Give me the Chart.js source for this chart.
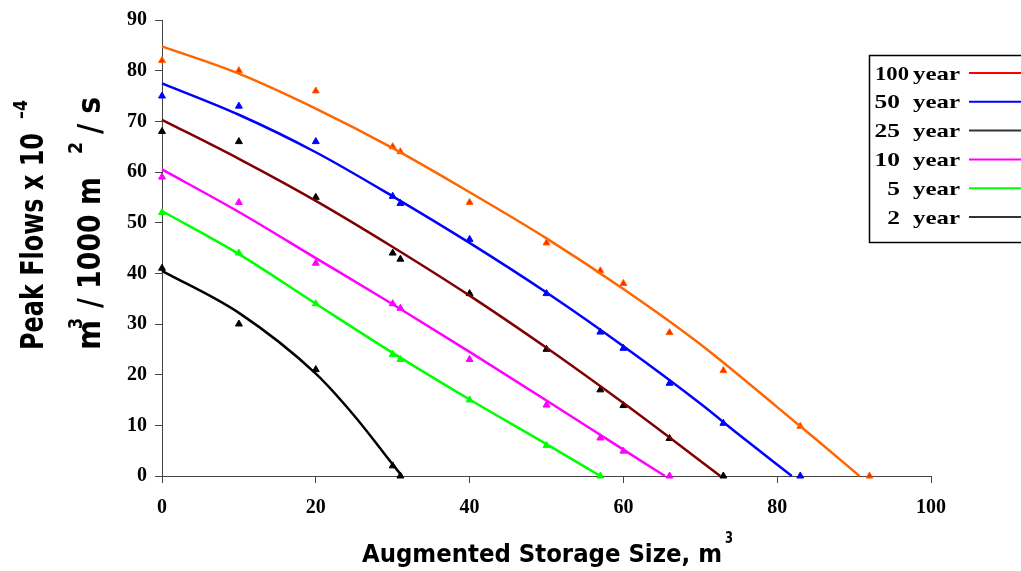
<!DOCTYPE html>
<html>
<head>
<meta charset="utf-8">
<script src="https://cdn.jsdelivr.net/npm/chart.js@4.4.1/dist/chart.umd.min.js"></script>
<style>
  html, body { margin: 0; padding: 0; background: #fff; }
  #wrap { width: 1021px; height: 571px; position: relative; }
</style>
</head>
<body>
<div id="wrap"><canvas id="peakChart"></canvas></div>
<script>
// Observed points (triangles), storage size vs peak flow
const obs100X = [0, 10, 20, 30, 31, 40, 50, 57, 60, 66, 73, 83, 92];
const obs100Y = [82, 80, 76, 65, 64, 54, 46, 40.5, 38, 28.3, 20.8, 9.8, 0];
const obs50X = [0, 10, 20, 30, 31, 40, 50, 57, 60, 66, 73, 83];
const obs50Y = [75, 73, 66, 55.2, 53.8, 46.7, 36, 28.4, 25.2, 18.3, 10.4, 0];
const obs25X = [0, 10, 20, 30, 31, 40, 50, 57, 60, 66, 73];
const obs25Y = [68, 66, 55, 44, 42.8, 36, 25, 17, 13.9, 7.4, 0];
const obs10X = [0, 10, 20, 30, 31, 40, 50, 57, 60, 66];
const obs10Y = [59, 54, 42, 34, 33.1, 23, 14, 7.5, 4.9, 0];
const obs5X = [0, 10, 20, 30, 31, 40, 50, 57];
const obs5Y = [52, 44, 34, 24, 23, 15, 6, 0];
const obs2X = [0, 10, 20, 30, 31];
const obs2Y = [41, 30, 21, 2, 0];

// Fitted trend curves
const fit100X = [0, 10, 20, 30, 40, 50, 60, 70, 80, 85, 90.7];
const fit100Y = [84.8, 79.4, 72.5, 64.7, 56.0, 46.9, 36.9, 26.0, 13.6, 7.3, 0];
const fit50X = [0, 10, 20, 30, 40, 50, 60, 70, 75, 81.9];
const fit50Y = [77.5, 71.3, 63.9, 55.2, 46.0, 36.2, 25.6, 14.3, 8.2, 0];
const fit25X = [0, 10, 20, 30, 40, 50, 60, 66, 72.6];
const fit25Y = [70.3, 62.6, 54.3, 45.2, 35.6, 25.3, 14.4, 7.6, 0];
const fit10X = [0, 10, 20, 30, 40, 50, 60, 65.4];
const fit10Y = [60.5, 52.1, 43.0, 33.9, 24.5, 14.9, 5.2, 0];
const fit5X = [0, 10, 20, 30, 40, 50, 57];
const fit5Y = [52.3, 43.8, 34.0, 24.3, 15.1, 6.3, 0];
const fit2X = [0, 10, 20, 25, 30, 31.2];
const fit2Y = [40.5, 32.2, 20.2, 11.9, 2.3, 0];

const xTicks = [0, 20, 40, 60, 80, 100];
const yTicks = [0, 10, 20, 30, 40, 50, 60, 70, 80, 90];

const legendNums = ['100', '50', '25', '10', '5', '2'];
const legendColors = ['#ff0000', '#0000ff', '#333333', '#ff00ff', '#00ff00', '#333333'];
const lineColors = ['#ff6600', '#0000ff', '#800000', '#ff00ff', '#00ff00', '#000000'];
const markFill = ['#ff2a00', '#0000ff', '#000000', '#ff00ff', '#00ff00', '#000000'];
const markEdge = ['#ff6600', '#0000ff', '#000000', '#ff00ff', '#00ff00', '#000000'];

const pts = (xs, ys) => xs.map((x, i) => ({ x: x, y: ys[i] }));

const fits = [[fit100X, fit100Y], [fit50X, fit50Y], [fit25X, fit25Y], [fit10X, fit10Y], [fit5X, fit5Y], [fit2X, fit2Y]];
const obs = [[obs100X, obs100Y], [obs50X, obs50Y], [obs25X, obs25Y], [obs10X, obs10Y], [obs5X, obs5Y], [obs2X, obs2Y]];

const datasets = [];
fits.forEach((f, i) => {
  datasets.push({
    label: legendNums[i] + ' year fit',
    data: pts(f[0], f[1]),
    showLine: true,
    borderColor: lineColors[i],
    borderWidth: 2.5,
    pointRadius: 0,
    cubicInterpolationMode: 'monotone',
    clip: false
  });
});
obs.forEach((o, i) => {
  datasets.push({
    label: legendNums[i] + ' year',
    data: pts(o[0], o[1]),
    showLine: false,
    pointStyle: 'triangle',
    pointRadius: 4,
    backgroundColor: markFill[i],
    borderColor: markEdge[i],
    borderWidth: 1,
    clip: false
  });
});

// stretch text to a given length (the source picture is drawn wide)
function fitText(ctx, text, x, y, len, font, sy) {
  ctx.save();
  ctx.font = font;
  const w = ctx.measureText(text).width;
  ctx.translate(x, y);
  ctx.scale(len / w, sy || 1);
  ctx.fillText(text, 0, 0);
  ctx.restore();
}
function fitTextUp(ctx, text, x, y, len, font, sy) {
  ctx.save();
  ctx.font = font;
  const w = ctx.measureText(text).width;
  ctx.translate(x, y);
  ctx.rotate(-Math.PI / 2);
  ctx.scale(len / w, sy || 1);
  ctx.fillText(text, 0, 0);
  ctx.restore();
}

const chartText = {
  id: 'chartText',
  afterDraw(chart) {
    const ctx = chart.ctx;
    ctx.save();
    ctx.fillStyle = '#000';
    ctx.textAlign = 'left';
    ctx.textBaseline = 'alphabetic';
    const big = 'bold 24px "DejaVu Sans"';
    const sup = 'bold 16px "DejaVu Sans"';

    // x axis title
    fitText(ctx, 'Augmented Storage Size, m', 362, 562, 360, big, 1);
    fitText(ctx, '3', 725, 543, 8, sup, 1);

    // y axis title, two lines
    fitTextUp(ctx, 'Peak Flows x 10', 43, 350, 217, big, 1.3);
    fitTextUp(ctx, '\u20134', 27, 119, 19, sup, 1.2);
    fitTextUp(ctx, 'm', 100, 350, 30, big, 1.3);
    fitTextUp(ctx, '3', 82, 329, 11, sup, 1.2);
    fitTextUp(ctx, '/ 1000 m', 100, 308, 131, big, 1.3);
    fitTextUp(ctx, '2', 82, 154, 12, sup, 1.2);
    fitTextUp(ctx, '/ s', 100, 134, 37, big, 1.3);

    // legend box
    ctx.strokeStyle = '#000';
    ctx.lineWidth = 1.5;
    ctx.strokeRect(869.5, 55.5, 200, 187);
    const lf = 'bold 19px "Liberation Serif"';
    ctx.font = lf;
    const sx = 48 / ctx.measureText('year').width;
    legendNums.forEach((n, i) => {
      const base = 79.5 + i * 28.8;
      const w = n.length === 3 ? 34 : ctx.measureText(n).width * sx;
      const nx = n.length === 3 ? 875 : 900 - w;
      fitText(ctx, n, nx, base, w, lf, 1);
      fitText(ctx, 'year', 913, base, 47, lf, 1);
      ctx.strokeStyle = legendColors[i];
      ctx.lineWidth = 2;
      ctx.beginPath();
      ctx.moveTo(969, base - 6.5);
      ctx.lineTo(1021, base - 6.5);
      ctx.stroke();
    });
    ctx.restore();
  }
};

const tickFont = { family: 'Liberation Serif', weight: 'bold', size: 20 };

new Chart(document.getElementById('peakChart'), {
  type: 'scatter',
  data: { datasets: datasets },
  options: {
    responsive: true,
    maintainAspectRatio: false,
    animation: false,
    layout: { padding: { top: 18, right: 90, left: 0, bottom: 0 } },
    plugins: { legend: { display: false }, tooltip: { enabled: false } },
    scales: {
      x: {
        type: 'linear',
        min: 0,
        max: 100,
        afterBuildTicks: (s) => { s.ticks = xTicks.map(v => ({ value: v })); },
        afterFit: (s) => { s.height = 95; },
        ticks: { font: tickFont, color: '#000', padding: 13, maxRotation: 0 },
        grid: { drawOnChartArea: false, tickLength: 7, color: '#444' },
        border: { color: '#444' }
      },
      y: {
        type: 'linear',
        min: 0,
        max: 90,
        afterBuildTicks: (s) => { s.ticks = yTicks.map(v => ({ value: v })); },
        afterFit: (s) => { s.width = 162; },
        ticks: { font: tickFont, color: '#000', padding: 8 },
        grid: { drawOnChartArea: false, tickLength: 7, color: '#444' },
        border: { color: '#444' }
      }
    }
  },
  plugins: [chartText]
});
</script>
</body>
</html>
